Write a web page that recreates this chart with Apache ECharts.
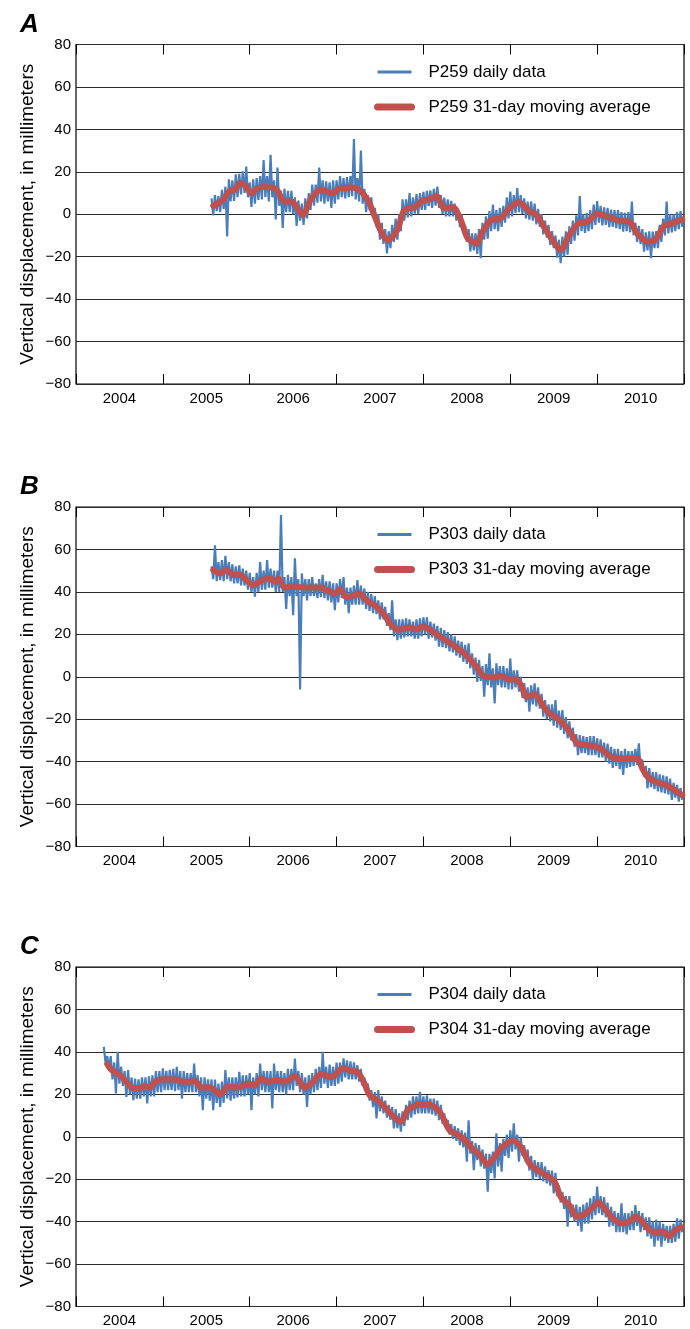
<!DOCTYPE html>
<html>
<head>
<meta charset="utf-8">
<script src="https://cdn.jsdelivr.net/npm/echarts@6/dist/echarts.min.js"></script>
<style>
  html, body { margin: 0; padding: 0; background: #fff; }
  #main { width: 690px; height: 1329px; }
</style>
</head>
<body>
<div id="main"></div>
<script>
// 年份标签（每个标签居中在该年份区间内）
var yearLabels = ['2004', '2005', '2006', '2007', '2008', '2009', '2010'];
var panelLetters = ['A', 'B', 'C'];
var stations = ['P259', 'P303', 'P304'];

// 日数据：起始年份(小数年) + 固定步长
var dailyStep = 0.02;
var dailyStart = [2005.56, 2005.56, 2004.32];

var dailyP259 = [7.5, -0.5, 9, 1.5, 8.5, 1, 11.5, 2.5, 13, -10.5,
  16.5, 6, 16, 6.3, 18.8, 8, 19, 9.3, 20.2, 10,
  22.5, 8, 15, 3.5, 16.5, 5, 17, 6.8, 18, 7,
  25.5, 8, 18, 6, 28, 8, 16, -2.5, 22, 4,
  11, -6.5, 12, 1, 11, 1, 11, 0, 8, -5.5,
  6.5, -3, 5, -5, 7.5, -2, 10, 2, 14, 4,
  14, 5.5, 22, 6, 16, 5, 15.5, 6, 15, 3,
  16, 5, 16, 7, 18, 8, 17, 7.5, 17.5, 8,
  18, 8.5, 35.5, 7, 17, 6, 30, 5, 12, 1,
  9, 2, 8, -1, 3, -6, 0, -12, -4, -14,
  -7, -18.5, -8, -16, -5, -13, -2, -12, 0, -8,
  7, -3, 7, -1.5, 10, -1, 8, 0.3, 9.5, 0,
  10, 2, 10.5, 2, 11, 3.8, 11.2, 3, 12, 4,
  13, 3, 9, 0, 7.8, -1, 7, -1, 6.3, -1,
  5, -3, 2, -6, 0, -9, -5, -13, -7, -17.5,
  -9, -17, -9, -18.7, -7, -20.7, -4, -12, -1, -11.5,
  1.5, -8, 4.5, -7, 2, -8, 3, -6, 4, -4,
  8, -2, 10.7, -1, 9, 0.5, 12.3, 1, 9, 0.2,
  7.5, -2, 6, -2.5, 6, -3, 5, -4.8, 2.5, -6,
  0, -9.5, -3, -11, -5, -14.5, -8, -16, -10, -20.5,
  -12, -23, -10.5, -20, -8, -19, -5.7, -14, -3, -12.5,
  -0.5, -10, 8.6, -8, 0, -8.8, 0.5, -8, 2, -7,
  4.5, -5, 6.2, -4, 4, -5.3, 3.2, -5, 3, -6.1,
  2.2, -6, 2, -6.5, 2, -7, 1, -8.2, 0.7, -8,
  1, -8.5, 6, -10, -4, -13, -5.5, -14, -7, -17.6,
  -8.5, -17, -8, -20.7, -8.2, -16, -8, -16, -5, -13,
  -2, -10, 6, -9, 0, -8.5, 0, -8, 1, -7,
  1.5, -6];

var dailyP303 = [52, 46, 62, 45, 54, 45.5, 55, 45, 57, 46,
  54, 45, 53, 44, 52, 44, 52.5, 43, 51, 43,
  50, 41, 49, 40, 47, 37.7, 49, 40, 54, 41,
  50, 41, 55, 42, 51, 42, 50, 40, 50, 40,
  76.2, 40, 47, 32, 48, 38, 47, 29, 55.8, 38,
  46, -6, 48.7, 38, 46, 36, 46, 38, 47, 38,
  44, 37, 46, 37.5, 48, 37, 45, 36, 45, 35,
  44, 31.4, 44, 35, 46, 37, 47, 34, 42, 30,
  42, 34, 43, 34, 45.6, 34, 43, 34, 41.6, 32,
  40, 31, 39, 30, 38, 29.5, 36, 27, 35, 27,
  33, 24, 30, 22, 36, 19, 27, 17.3, 27, 18,
  27, 18.5, 27.5, 19, 27, 19, 26, 18, 27, 18,
  27.5, 19, 28, 20, 28, 18, 26, 18.5, 25, 17,
  24, 14.2, 23, 14, 22, 13.5, 21, 12, 20, 11.5,
  19, 10, 17, 9, 16.5, 7, 15, 6, 15.7, 4,
  11, 1, 9, -2.4, 8, -2, 5, -9.4, 6, -4,
  11, -5, 4, -12.6, 6.3, -4, 5, -5, 5, -5,
  4, -6, 8.6, -6, 3, -5, 3, -7, 0, -10,
  -3, -12, -5, -16.5, -4, -13, -3.1, -14, -5, -15,
  -8, -18.8, -11, -20, -13, -21, -13, -23, -11, -24,
  -16, -25, -15.7, -27, -19, -29, -21, -30, -24, -33,
  -27, -37, -27.5, -36, -28, -36, -28.5, -37, -28, -37,
  -28, -37, -29, -38, -29.5, -38, -31, -40, -31.5, -41,
  -33, -43, -34, -42, -34, -43.5, -35, -46.3, -34, -43,
  -35, -42.5, -35, -42, -34, -41.5, -31.4, -43, -39, -47,
  -42, -52.6, -43, -52, -45, -53, -45, -54, -46, -54.5,
  -46.5, -55, -47, -55.5, -48, -58, -50, -57, -51, -58.9,
  -52.5, -58];

var dailyP304 = [42.4, 35, 38, 32, 38, 27, 35, 20.4, 40, 25,
  33, 24, 31, 18.8, 31.4, 20, 28, 17.2, 27.4, 18,
  27, 18, 28, 19, 28, 15.7, 28.5, 19, 29, 19,
  31, 21, 31, 21, 32.2, 22, 31, 22, 31.5, 22,
  32, 21.5, 33, 22, 31, 18, 31, 21, 30, 21,
  30, 21, 34.5, 21, 29, 19, 28, 12.5, 28, 18,
  27, 17, 27, 12.5, 27, 16, 25, 14.1, 26, 16,
  31.4, 18, 28, 17, 28, 18, 28, 18.5, 30.6, 19,
  29, 19, 29, 20, 30, 12.5, 28, 20, 30, 19,
  34.5, 22, 31, 21, 31, 21, 31, 13.3, 34.5, 22,
  31, 21, 31, 21, 30, 20, 32, 22, 32, 22,
  36.9, 24, 31, 21, 30, 20, 28, 14.1, 29, 20,
  30, 21, 32, 22, 33, 23, 40, 25, 33, 23,
  34, 24, 33, 24, 35, 25, 35, 26, 36.9, 28,
  36, 27, 35.5, 27, 35, 27, 33.7, 26, 32, 24,
  28, 21, 25, 17, 22, 14, 21, 8.6, 22, 12,
  19, 11, 17, 9, 15, 8, 14, 3.9, 13, 4,
  11, 2.4, 12, 5, 15, 7.8, 17, 9, 19, 10.5,
  19, 11, 21.2, 11, 19, 11, 19.5, 11, 18, 10.5,
  18, 10, 17, 7.8, 15, 6, 11, 4, 8, 1,
  6, -1, 5, -2, 4, -4, 3, -5, 2, -11.8,
  7.8, -8, -2, -15.7, -3, -11, -4, -14, -6, -15,
  -8, -25.9, -8, -17, -7, -19.6, 1.6, -14, -3, -16.5,
  -1, -9, 1, -10, 3, -7, 6.3, -6, 1, -11.8,
  0, -9, -4, -12, -6, -16, -9, -20.4, -11, -19,
  -12, -20, -12, -21, -14, -22, -15.7, -23, -16, -26.7,
  -17, -28, -23, -31, -26, -34, -28, -42.4, -28, -38,
  -32, -40, -32, -42, -33, -44.7, -32, -41, -31, -41,
  -29, -39, -28, -37, -23.5, -36, -28, -37, -28.5, -38,
  -31, -42.4, -33, -42, -35, -45, -36, -45, -31.4, -45,
  -36, -46, -36, -44, -35, -44, -32.2, -42, -35, -45,
  -36, -44, -38, -47, -38, -48, -40, -51.8, -39, -49,
  -40, -51.8, -41, -49, -42, -50, -42, -50, -41, -49.5,
  -38.5, -48, -39, -45];

// 31天滑动平均 [小数年, 毫米]
var avgP259 = [[2005.58, 3.9], [2005.69, 6.7], [2005.77, 11.1], [2005.83, 11.5], [2005.89, 14.6],
  [2005.94, 13.8], [2006.02, 9.9], [2006.09, 12.2], [2006.19, 13], [2006.31, 11.5],
  [2006.40, 6], [2006.48, 6], [2006.61, -0.3], [2006.71, 7.5], [2006.82, 11.5],
  [2006.96, 9.9], [2007.03, 12.2], [2007.17, 12.6], [2007.26, 11.5], [2007.36, 6.7],
  [2007.44, -1.1], [2007.53, -9.7], [2007.59, -12.1], [2007.70, -7.4], [2007.78, 2],
  [2007.90, 3.3], [2007.99, 6.4], [2008.07, 7], [2008.15, 8.6], [2008.24, 2.8],
  [2008.34, 3.3], [2008.43, -2.7], [2008.51, -11.3], [2008.61, -13.7], [2008.68, -8.2],
  [2008.78, -2.7], [2008.89, -1.9], [2008.99, 2.8], [2009.10, 5.5], [2009.22, 1.3],
  [2009.30, -0.3], [2009.41, -7.4], [2009.51, -13.7], [2009.58, -16.8], [2009.68, -9.7],
  [2009.79, -4.2], [2009.89, -3.5], [2010.00, 0.2], [2010.12, -1.1], [2010.25, -3],
  [2010.37, -3.5], [2010.46, -8.9], [2010.58, -12.9], [2010.67, -12.1], [2010.77, -5.5],
  [2010.87, -4.2], [2010.98, -2.4]];

var avgP303 = [[2005.58, 50.3], [2005.66, 48.7], [2005.73, 50.3], [2005.81, 47.9], [2005.89, 47.9],
  [2005.96, 45.6], [2006.04, 43.2], [2006.15, 45.6], [2006.23, 46.3], [2006.29, 44.8],
  [2006.33, 46.3], [2006.40, 42.1], [2006.50, 42.7], [2006.61, 42.1], [2006.73, 42.1],
  [2006.82, 42.1], [2006.90, 40.5], [2006.98, 39.3], [2007.04, 41.2], [2007.11, 37.7],
  [2007.21, 38.5], [2007.26, 39.3], [2007.34, 36.1], [2007.46, 33], [2007.55, 29.1],
  [2007.63, 24.4], [2007.72, 22], [2007.82, 23.3], [2007.92, 22.3], [2007.99, 23.6],
  [2008.11, 21.2], [2008.22, 18.1], [2008.34, 14.9], [2008.49, 10.2], [2008.61, 4.7],
  [2008.68, 0.8], [2008.80, -0.3], [2008.89, 0.3], [2008.99, -1.3], [2009.07, -1.3],
  [2009.14, -5.5], [2009.18, -9.4], [2009.28, -8.2], [2009.37, -13.3], [2009.45, -17.3],
  [2009.54, -19.6], [2009.64, -23.5], [2009.72, -28.3], [2009.77, -31.4], [2009.87, -32.2],
  [2009.99, -33], [2010.06, -34.5], [2010.16, -37.7], [2010.25, -38.5], [2010.37, -38.5],
  [2010.46, -38.5], [2010.52, -43.2], [2010.58, -47.1], [2010.67, -49.5], [2010.79, -51],
  [2010.89, -53.4], [2010.98, -55.7]];

var avgP304 = [[2004.36, 34.2], [2004.41, 31.4], [2004.49, 29.5], [2004.56, 26.7], [2004.64, 23.2],
  [2004.72, 22.7], [2004.79, 23.8], [2004.85, 23.2], [2004.91, 25.9], [2005.02, 27.1],
  [2005.14, 27], [2005.25, 25.9], [2005.37, 26.2], [2005.44, 23.2], [2005.54, 23.2],
  [2005.66, 20.1], [2005.75, 23.5], [2005.87, 23.2], [2005.98, 25.1], [2006.06, 24.3],
  [2006.13, 27.4], [2006.21, 25.9], [2006.31, 26.7], [2006.40, 25.9], [2006.52, 28.5],
  [2006.63, 23.2], [2006.73, 25.9], [2006.82, 29.5], [2006.94, 28.2], [2007.07, 32.2],
  [2007.17, 31.1], [2007.24, 30.6], [2007.32, 25.1], [2007.38, 19.6], [2007.47, 17.2],
  [2007.57, 13.3], [2007.63, 10.5], [2007.74, 7.1], [2007.82, 12.6], [2007.92, 14.9],
  [2008.01, 15.4], [2008.11, 14.4], [2008.18, 12.2], [2008.24, 7.8], [2008.30, 3.1],
  [2008.38, 1.3], [2008.47, -1.3], [2008.57, -6], [2008.64, -8.2], [2008.74, -12.9],
  [2008.82, -9.4], [2008.91, -4.7], [2009.03, -1.9], [2009.12, -4.7], [2009.22, -12.6],
  [2009.31, -15.7], [2009.41, -18.1], [2009.51, -21.2], [2009.58, -28.3], [2009.68, -32.2],
  [2009.77, -37.7], [2009.87, -36.1], [2009.95, -33.3], [2010.02, -31.1], [2010.10, -34.5],
  [2010.18, -38.5], [2010.29, -40.8], [2010.37, -40], [2010.44, -37.7], [2010.52, -40],
  [2010.60, -43.9], [2010.68, -45.2], [2010.75, -44.7], [2010.83, -46.8], [2010.90, -44],
  [2010.97, -42.7]];

var dailyData = [dailyP259, dailyP303, dailyP304];
var avgData = [avgP259, avgP303, avgP304];

var plainFont = "'Liberation Sans', Arial, sans-serif";
var blue = '#4a7ebb';
var red = '#c0504d';
var panelTops = [44.5, 507, 967];
var panelHeight = 339.5;

var myChart = echarts.init(document.getElementById('main'));

var grids = [], xAxes = [], yAxes = [], series = [], legends = [], titles = [];

panelTops.forEach(function (top, i) {
  grids.push({
    left: 76, right: 6, top: top, height: panelHeight,
    show: true, borderColor: '#000', borderWidth: 1.2, backgroundColor: 'transparent'
  });

  // 年份文字（类目轴，标签居中）
  xAxes.push({
    type: 'category', gridIndex: i, data: yearLabels, boundaryGap: true, position: 'bottom',
    axisLine: { show: false }, axisTick: { show: false }, splitLine: { show: false },
    axisLabel: { color: '#000', fontSize: 15, fontFamily: plainFont, margin: 7 }
  });
  // 刻度线（底部、顶部，向内）
  ['bottom', 'top'].forEach(function (pos) {
    xAxes.push({
      type: 'value', gridIndex: i, min: 2004, max: 2011, interval: 1, position: pos,
      axisLine: { show: false }, axisLabel: { show: false }, splitLine: { show: false },
      axisTick: { show: true, inside: true, length: 10, lineStyle: { color: '#000', width: 1 } }
    });
  });

  yAxes.push({
    type: 'value', gridIndex: i, min: -80, max: 80, interval: 20,
    axisLine: { show: false }, axisTick: { show: false },
    axisLabel: {
      color: '#000', fontSize: 15, fontFamily: plainFont, margin: 5,
      formatter: function (v) { return v < 0 ? '\u2212' + Math.abs(v) : String(v); }
    },
    splitLine: { lineStyle: { color: '#2b2b2b', width: 1.2 } },
    name: 'Vertical displacement, in millimeters',
    nameLocation: 'middle', nameGap: 39, nameMoveOverlap: false,
    nameTextStyle: { color: '#000', fontSize: 19, fontFamily: plainFont }
  });

  var dailyName = stations[i] + ' daily data';
  var avgName = stations[i] + ' 31-day moving average';
  var start = dailyStart[i];

  series.push({
    name: dailyName, type: 'line', xAxisIndex: i * 3 + 1, yAxisIndex: i,
    symbol: 'none', showSymbol: false,
    lineStyle: { color: blue, width: 2.2 }, itemStyle: { color: blue },
    data: dailyData[i].map(function (v, k) { return [start + k * dailyStep, v]; })
  });
  series.push({
    name: avgName, type: 'line', xAxisIndex: i * 3 + 1, yAxisIndex: i,
    symbol: 'none', showSymbol: false, smooth: 0.3,
    lineStyle: { color: red, width: 6, cap: 'round', join: 'round' },
    itemStyle: { color: red },
    data: avgData[i]
  });

  legends.push({
    data: [
      { name: dailyName, lineStyle: { color: blue, width: 3 } },
      { name: avgName, lineStyle: { color: red, width: 7, cap: 'round' } }
    ],
    orient: 'vertical',
    left: 369, top: top + 14, itemWidth: 34, itemHeight: 14, itemGap: 18,
    itemStyle: { opacity: 0 },
    textStyle: { color: '#000', fontSize: 17, fontFamily: plainFont, padding: [0, 0, 0, 12] }
  });

  titles.push({
    text: panelLetters[i], left: 15, top: top - 38,
    textStyle: { color: '#000', fontSize: 26, fontWeight: 'bold', fontStyle: 'italic', fontFamily: plainFont }
  });
});

myChart.setOption({
  animation: false,
  backgroundColor: '#fff',
  title: titles,
  legend: legends,
  grid: grids,
  xAxis: xAxes,
  yAxis: yAxes,
  series: series
});
</script>
</body>
</html>
